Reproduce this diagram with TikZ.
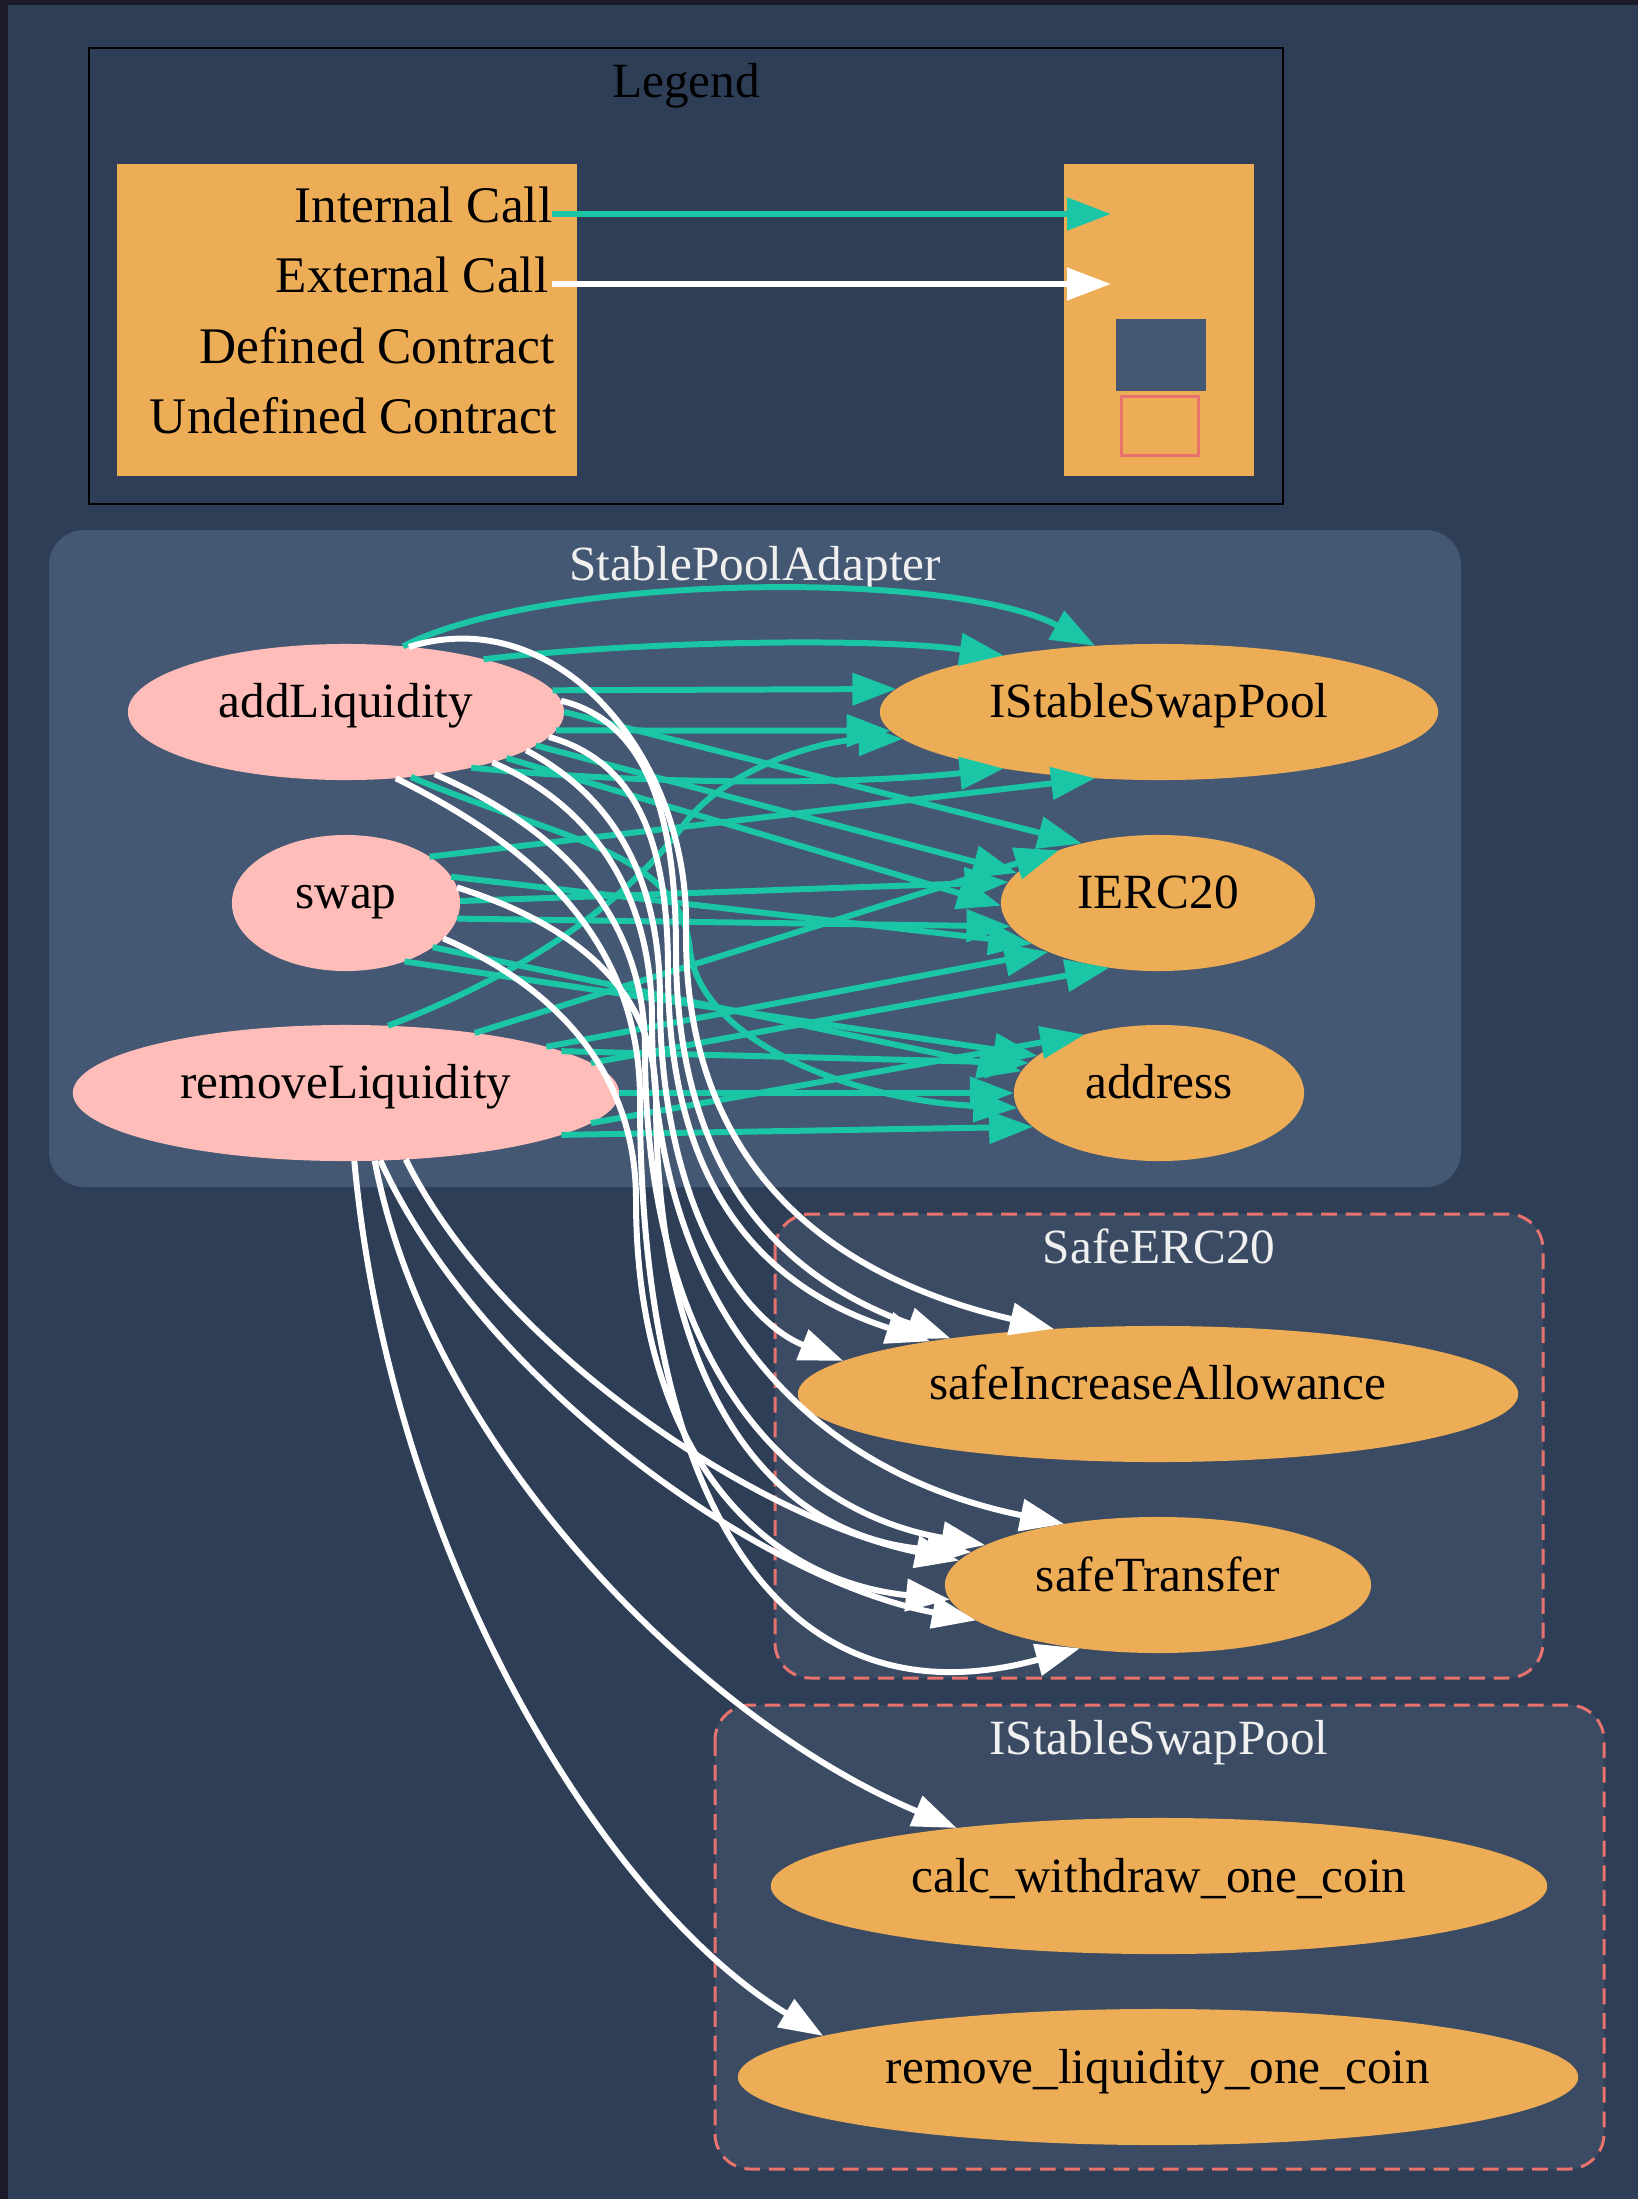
\documentclass[tikz,border=0pt]{standalone}
\usepackage{fontspec}
\setmainfont{Liberation Serif}
\usetikzlibrary{shapes.geometric, arrows.meta}

\definecolor{bgblue}{HTML}{2E3E56}
\definecolor{edgedark}{HTML}{1C1B2B}
\definecolor{defc}{HTML}{445773}
\definecolor{undefc}{HTML}{3B4B63}
\definecolor{salmon}{HTML}{E8726D}
\definecolor{deporange}{HTML}{EDAD56}
\definecolor{fnpink}{HTML}{FFBDB9}
\definecolor{tealcall}{HTML}{1BC6A6}
\definecolor{titlegray}{HTML}{F0F0F0}

\begin{document}
\begin{tikzpicture}[x=0.01cm, y=-0.01cm,
  fn/.style={ellipse, fill=fnpink, minimum height=1.36cm, inner sep=0pt, outer sep=0pt,
    text height=7pt, text depth=3.6pt, font=\fontsize{14}{16}\selectfont},
  dep/.style={fn, fill=deporange},
  ctitle/.style={anchor=base, inner sep=0pt, text=titlegray, font=\fontsize{14}{16}\selectfont},
  lbl/.style={anchor=base east, inner sep=0pt, font=\fontsize{14.6}{16}\selectfont},
  undefbox/.style={fill=undefc, draw=salmon, line width=0.85pt, dash pattern=on 4.5pt off 2.5pt, rounded corners=10pt},
  intcall/.style={->, draw=tealcall, line width=1.7pt},
  extcall/.style={->, draw=white, line width=1.7pt},
  >={Triangle[length=12.5pt, width=9pt]}]

  % canvas
  \useasboundingbox (0,0) rectangle (1638,2199);
  \fill[bgblue] (0,0) rectangle (1638,2199);
  \fill[edgedark] (0,0) rectangle (1638,5);
  \fill[edgedark] (0,0) rectangle (8,2199);

  % legend
  \draw[black, line width=0.8pt] (89,48) rectangle (1283,504);
  \node[ctitle, text=black] (legt) at (686,97) {Legend};
  \node[fill=deporange, minimum width=4.6cm, minimum height=3.12cm, inner sep=0pt] (key) at (347,320) {};
  \node[fill=deporange, minimum width=1.9cm, minimum height=3.12cm, inner sep=0pt] (keyb) at (1159,320) {};
  \node[lbl] (lint) at (553,222) {Internal Call};
  \node[lbl] (lext) at (549,292) {External Call};
  \node[lbl] (ldef) at (555,363) {Defined Contract};
  \node[lbl] (lundef) at (557,433) {Undefined Contract};
  \node[fill=defc, minimum width=0.9cm, minimum height=0.71cm, inner sep=0pt] (kdef) at (1161,355) {};
  \node[fill=deporange, draw=salmon, line width=0.85pt, minimum width=0.77cm, minimum height=0.58cm, inner sep=0pt] (kundef) at (1160,426) {};
  \coordinate (ki0) at (552,214);
  \coordinate (ki1) at (1111,214);
  \coordinate (ke0) at (552,284);
  \coordinate (ke1) at (1111,284);
  \draw[intcall] (ki0) -- (ki1);
  \draw[extcall] (ke0) -- (ke1);

  % clusters
  \fill[defc, rounded corners=10pt] (49,530) rectangle (1461,1187);
  \node[ctitle] (spa) at (755,580) {StablePoolAdapter};
  \path[undefbox] (775,1214) rectangle (1543,1678);
  \node[ctitle] (serc) at (1159,1263) {SafeERC20};
  \path[undefbox] (715,1705) rectangle (1604,2169);
  \node[ctitle] (ispc) at (1159,1754) {IStableSwapPool};

  % functions
  \node[fn, minimum width=4.36cm] (addL) at (346,712) {addLiquidity};
  \node[fn, minimum width=2.28cm] (swap) at (346,903) {swap};
  \node[fn, minimum width=5.46cm] (remL) at (346,1093) {removeLiquidity};

  % dependencies
  \node[dep, minimum width=5.58cm] (isp) at (1159,712) {IStableSwapPool};
  \node[dep, minimum width=3.14cm] (ierc) at (1158,903) {IERC20};
  \node[dep, minimum width=2.90cm] (addr) at (1159,1093) {address};
  \node[dep, minimum width=7.20cm] (sia) at (1158,1394) {safeIncreaseAllowance};
  \node[dep, minimum width=4.26cm] (st) at (1158,1585) {safeTransfer};
  \node[dep, minimum width=7.76cm] (cw) at (1159,1886) {calc\_withdraw\_one\_coin};
  \node[dep, minimum width=8.40cm] (rl) at (1158,2077) {remove\_liquidity\_one\_coin};

  % internal calls
  \draw[intcall] (addL.49) .. controls (540,575) and (950,568) .. (isp.134);
  \draw[intcall] (addL.21) .. controls (650,640) and (880,638) .. (isp.160);
  \draw[intcall] (addL.6) -- (isp.175);
  \draw[intcall] (addL.-5) -- (isp.184);
  \draw[intcall] (addL.-24) .. controls (650,785) and (850,785) .. (isp.200);
  \draw[intcall] (addL.0) -- (ierc.142);
  \draw[intcall] (addL.-10) -- (ierc.168);
  \draw[intcall] (addL.-16) -- (ierc.181);
  \draw[intcall] (addL.-45) .. controls (560,840) and (680,850) .. (690,950) .. controls (700,1040) and (850,1100) .. (addr.186);
  \draw[intcall] (swap.29) -- (isp.226);
  \draw[intcall] (swap.14) -- (ierc.198);
  \draw[intcall] (swap.1.5) -- (ierc.172);
  \draw[intcall] (swap.-8) -- (ierc.189);
  \draw[intcall] (swap.-27) -- (addr.171);
  \draw[intcall] (swap.-45) -- (addr.163);
  \draw[intcall] (remL.58) .. controls (560,960) and (640,880) .. (680,830) .. controls (720,770) and (820,740) .. (isp.186);
  \draw[intcall] (remL.25) -- (ierc.152);
  \draw[intcall] (remL.13) -- (ierc.204);
  \draw[intcall] (remL.7) -- (ierc.233);
  \draw[intcall] (remL.11) -- (addr.167);
  \draw[intcall] (remL.0) -- (addr.180);
  \draw[intcall] (remL.-7) -- (addr.142);
  \draw[intcall] (remL.-11) -- (addr.195);

  % external calls
  \draw[extcall] (addL.46) .. controls (560,600) and (690,760) .. (686,930) .. controls (684,1140) and (800,1270) .. (sia.148);
  \draw[extcall] (addL.3) .. controls (640,720) and (676,800) .. (676,950) .. controls (676,1150) and (760,1270) .. (sia.165);
  \draw[extcall] (addL.-7) .. controls (630,760) and (668,830) .. (668,970) .. controls (668,1160) and (740,1280) .. (sia.167);
  \draw[extcall] (addL.-12.5) .. controls (600,790) and (660,860) .. (660,1000) .. controls (660,1200) and (740,1320) .. (sia.174);
  \draw[extcall] (addL.-19) .. controls (580,800) and (652,880) .. (652,1020) .. controls (652,1300) and (800,1470) .. (st.147);
  \draw[extcall] (addL.-35) .. controls (540,820) and (645,900) .. (645,1050) .. controls (645,1350) and (780,1510) .. (st.167);
  \draw[extcall] (addL.-53) .. controls (520,840) and (640,930) .. (640,1100) .. controls (640,1500) and (780,1730) .. (st.219);
  \draw[extcall] (swap.8) .. controls (560,920) and (656,980) .. (656,1100) .. controls (656,1400) and (780,1540) .. (st.170);
  \draw[extcall] (swap.-20) .. controls (540,980) and (636,1060) .. (636,1200) .. controls (636,1450) and (760,1580) .. (st.184);
  \draw[extcall] (remL.-83) .. controls (390,1550) and (600,1900) .. (rl.173.5);
  \draw[extcall] (remL.-67) .. controls (430,1450) and (700,1720) .. (cw.164);
  \draw[extcall] (remL.-63) .. controls (480,1380) and (760,1580) .. (st.191);
  \draw[extcall] (remL.-48) .. controls (500,1350) and (760,1520) .. (st.173);
\end{tikzpicture}
\end{document}
